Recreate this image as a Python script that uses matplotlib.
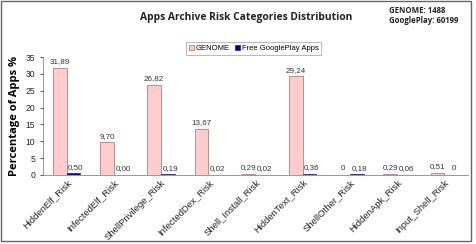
import matplotlib.pyplot as plt
import numpy as np
from matplotlib.patches import Rectangle

categories = ['HiddenElf_Risk', 'InfectedElf_Risk', 'ShellPrivilege_Risk', 'InfectedDex_Risk',
              'Shell_Install_Risk', 'HiddenText_Risk', 'ShellOther_Risk', 'HiddenApk_Risk',
              'Input_Shell_Risk']
genome = [31.89, 9.70, 26.82, 13.67, 0.29, 29.24, 0, 0.29, 0.51]
google = [0.50, 0.00, 0.19, 0.02, 0.02, 0.36, 0.18, 0.06, 0]
genome_labels = ['31,89', '9,70', '26,82', '13,67', '0,29', '29,24', '0', '0,29', '0,51']
google_labels = ['0,50', '0,00', '0,19', '0,02', '0,02', '0,36', '0,18', '0,06', '0']

fig = plt.figure(figsize=(4.77, 2.44), dpi=100)
ax = fig.add_axes([0.090, 0.283, 0.891, 0.483])

x = np.arange(len(categories))
w = 0.29
ax.bar(x - w/2, genome, w, color='#ffcccc', edgecolor='#b08080', linewidth=0.6, label='GENOME')
ax.bar(x + w/2, google, w, color='#000099', edgecolor='#000066', linewidth=0.4, label='Free GooglePlay Apps')

for i in range(len(categories)):
    ax.text(x[i] - w/2, genome[i] + 0.8, genome_labels[i], ha='center', va='bottom',
            fontsize=5.8, color='#333333', family='Liberation Sans')
    ax.text(x[i] + w/2 + 0.05, google[i] + 0.8, google_labels[i], ha='center', va='bottom',
            fontsize=5.8, color='#333333', family='Liberation Sans')

ax.set_xlim(-0.5, len(categories) - 0.5)
ax.set_ylim(0, 35)
ax.set_yticks(range(0, 36, 5))
ax.set_xticks(x)
ax.set_xticklabels(categories, rotation=45, ha='right', rotation_mode='anchor',
                   fontsize=6.8, family='Liberation Sans', color='#222222')
ax.tick_params(axis='y', labelsize=6.2, length=2, colors='#555555', labelcolor='#222222')
ax.tick_params(axis='x', length=0, pad=2)
for lab in ax.get_yticklabels():
    lab.set_family('Liberation Sans')
for s in ['top', 'right']:
    ax.spines[s].set_visible(False)
ax.spines['left'].set_color('#888888')
ax.spines['bottom'].set_color('#888888')
ax.spines['left'].set_linewidth(0.6)
ax.spines['bottom'].set_linewidth(0.6)

ax.set_ylabel('Percentage of Apps %', fontsize=8, fontweight='bold', family='Open Sans', labelpad=4)

fig.text(0.516, 0.93, 'Apps Archive Risk Categories Distribution', ha='center', va='center',
         fontsize=7.4, fontweight='bold', family='Open Sans', color='#222222')
fig.text(0.815, 0.975, 'GENOME: 1488\nGooglePlay: 60199', ha='left', va='top',
         fontsize=5.6, fontweight='bold', family='Open Sans', color='#222222', linespacing=1.15)

leg = fig.legend(loc='center', bbox_to_anchor=(0.532, 0.80), ncol=2, fontsize=5.5,
                 frameon=True, fancybox=False, handlelength=0.7, handleheight=0.7,
                 handletextpad=0.2, columnspacing=0.6, borderpad=0.35,
                 prop={'family': 'Liberation Sans', 'size': 5.5})
leg.get_frame().set_edgecolor('#999999')
leg.get_frame().set_linewidth(0.6)

fig.patches.append(Rectangle((0.003, 0.012), 0.985, 0.985, transform=fig.transFigure,
                             fill=False, edgecolor='#666666', linewidth=1.0))

fig.savefig('out.png', dpi=100)
